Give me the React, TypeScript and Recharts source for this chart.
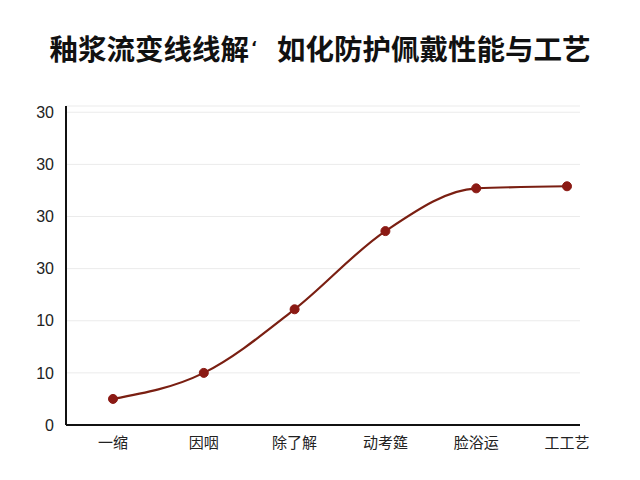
import React from "react";
import { LineChart, Line, XAxis, YAxis, CartesianGrid } from "recharts";

const categories = ["一缩", "因咽", "除了解", "动考筵", "脸浴运", "工工艺"];
const values = [5, 10, 22.2, 37.2, 45.4, 45.8];
const yTicks = [0, 10, 20, 30, 40, 50, 60];
const yTickLabels = ["0", "10", "10", "30", "30", "30", "30"];
const titleLeft = "釉浆流变线线解";
const titleMark = "‘";
const titleRight = "如化防护佩戴性能与工艺";

const data = categories.map((c, i) => ({ name: c, value: values[i] }));

export default function App() {
  return (
    <div style={{ position: "absolute", left: 0, top: 0, width: 640, height: 480, background: "#fff" }}>
      <div
        style={{
          position: "absolute",
          left: 0,
          top: 28,
          width: 640,
          textAlign: "center",
          fontFamily: "'Noto Sans CJK SC', sans-serif",
          fontWeight: 700,
          fontSize: 28.5,
          lineHeight: "40px",
          color: "#111",
          whiteSpace: "nowrap",
        }}
      >
        {titleLeft}
        <span style={{ fontSize: 16, verticalAlign: "top", fontFamily: "'DejaVu Sans', sans-serif", marginLeft: 2, marginRight: 20 }}>
          {titleMark}
        </span>
        {titleRight}
      </div>
      <div style={{ position: "absolute", left: 0, top: 0 }}>
        <LineChart width={640} height={480} data={data} margin={{ top: 106, right: 60, bottom: 25, left: 0 }}>
          <CartesianGrid vertical={false} stroke="#ebebeb" />
          <XAxis
            dataKey="name"
            scale="point"
            padding={{ left: 47, right: 13 }}
            height={30}
            tickLine={false}
            tickMargin={6}
            axisLine={{ stroke: "#111", strokeWidth: 2 }}
            tick={{ fill: "#222", fontSize: 15, fontFamily: "'Noto Sans CJK SC', sans-serif" }}
          />
          <YAxis
            type="number"
            domain={[0, 61.2]}
            ticks={yTicks}
            width={66}
            tickLine={false}
            tickMargin={6}
            axisLine={{ stroke: "#111", strokeWidth: 2 }}
            tickFormatter={(v: number) => yTickLabels[yTicks.indexOf(v)] ?? ""}
            tick={{ fill: "#222", fontSize: 16, fontFamily: "'Liberation Sans', Arial, sans-serif" }}
          />
          <Line
            type="monotone"
            dataKey="value"
            stroke="#7a1f12"
            strokeWidth={2.2}
            dot={{ r: 4.5, fill: "#8b1a14", stroke: "#8b1a14", strokeWidth: 1 }}
            isAnimationActive={false}
          />
        </LineChart>
      </div>
    </div>
  );
}
